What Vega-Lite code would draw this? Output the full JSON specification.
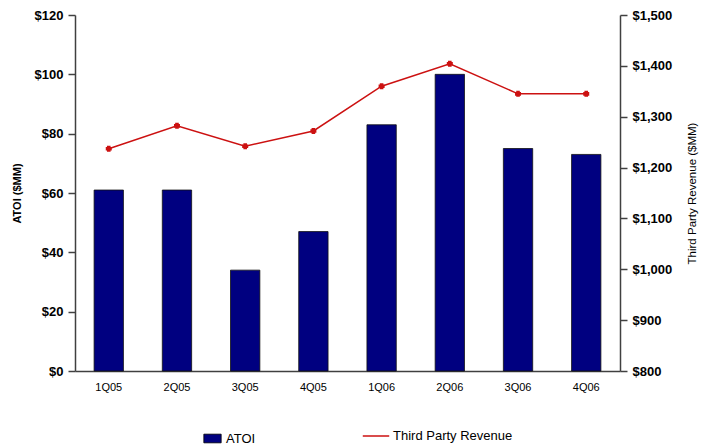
{
  "$schema": "https://vega.github.io/schema/vega-lite/v6.json",
  "width": 545,
  "height": 356,
  "autosize": {"type": "none"},
  "padding": {"left": 75, "top": 15, "right": 81, "bottom": 75},
  "background": "white",
  "config": {
    "view": {"stroke": null},
    "font": "Liberation Sans",
    "axis": {"grid": false, "domainColor": "#404040", "tickColor": "#404040", "domainWidth": 1.5, "tickWidth": 1.5}
  },
  "data": {
    "values": [
      {"q": "1Q05", "atoi": 61, "rev": 1237},
      {"q": "2Q05", "atoi": 61, "rev": 1282},
      {"q": "3Q05", "atoi": 34, "rev": 1242},
      {"q": "4Q05", "atoi": 47, "rev": 1272},
      {"q": "1Q06", "atoi": 83, "rev": 1360},
      {"q": "2Q06", "atoi": 100, "rev": 1404},
      {"q": "3Q06", "atoi": 75, "rev": 1345},
      {"q": "4Q06", "atoi": 73, "rev": 1345}
    ]
  },
  "encoding": {
    "x": {
      "field": "q", "type": "nominal", "sort": null,
      "scale": {"paddingInner": 0.57, "paddingOuter": 0.28},
      "axis": {"title": null, "labelAngle": 0, "ticks": false, "labelFontSize": 11, "labelColor": "#000", "labelPadding": 10}
    }
  },
  "layer": [
    {
      "mark": {"type": "bar", "stroke": "#111", "strokeWidth": 0.8},
      "encoding": {
        "y": {
          "field": "atoi", "type": "quantitative",
          "scale": {"domain": [0, 120]},
          "axis": {"title": "ATOI ($MM)", "values": [0, 20, 40, 60, 80, 100, 120], "format": "$,d", "labelFontSize": 13, "labelFontWeight": "bold", "labelColor": "#000", "tickSize": 7, "labelPadding": 5, "titleFontSize": 11, "titleFontWeight": "bold", "titleColor": "#000", "titlePadding": 12}
        },
        "fill": {
          "datum": "ATOI",
          "scale": {"range": ["#000080"]},
          "legend": {"title": null, "orient": "none", "legendX": 128, "legendY": 414, "symbolType": "M-1,-0.5H1V0.5H-1Z", "symbolSize": 300, "symbolStrokeColor": "#000", "symbolStrokeWidth": 0.8, "labelFontSize": 13, "labelColor": "#000"}
        }
      }
    },
    {
      "mark": {"type": "line", "strokeWidth": 1.5, "point": {"shape": "cross", "size": 16, "filled": true, "color": "#cc1111"}},
      "encoding": {
        "y": {
          "field": "rev", "type": "quantitative",
          "scale": {"domain": [800, 1500]},
          "axis": {"orient": "right", "title": "Third Party Revenue ($MM)", "values": [800, 900, 1000, 1100, 1200, 1300, 1400, 1500], "format": "$,d", "labelFontSize": 13, "labelFontWeight": "bold", "labelColor": "#000", "tickSize": 7, "labelPadding": 5, "titleFontSize": 11.5, "titleFontWeight": "normal", "titleColor": "#000", "titleAngle": 270, "titlePadding": 26}
        },
        "stroke": {
          "datum": "Third Party Revenue",
          "scale": {"range": ["#cc1111"]},
          "legend": {"title": null, "orient": "none", "legendX": 287, "legendY": 407, "symbolType": "stroke", "symbolSize": 700, "symbolStrokeWidth": 1.5, "labelFontSize": 13, "labelColor": "#000", "labelOffset": 3}
        }
      }
    }
  ],
  "resolve": {"scale": {"y": "independent"}}
}
